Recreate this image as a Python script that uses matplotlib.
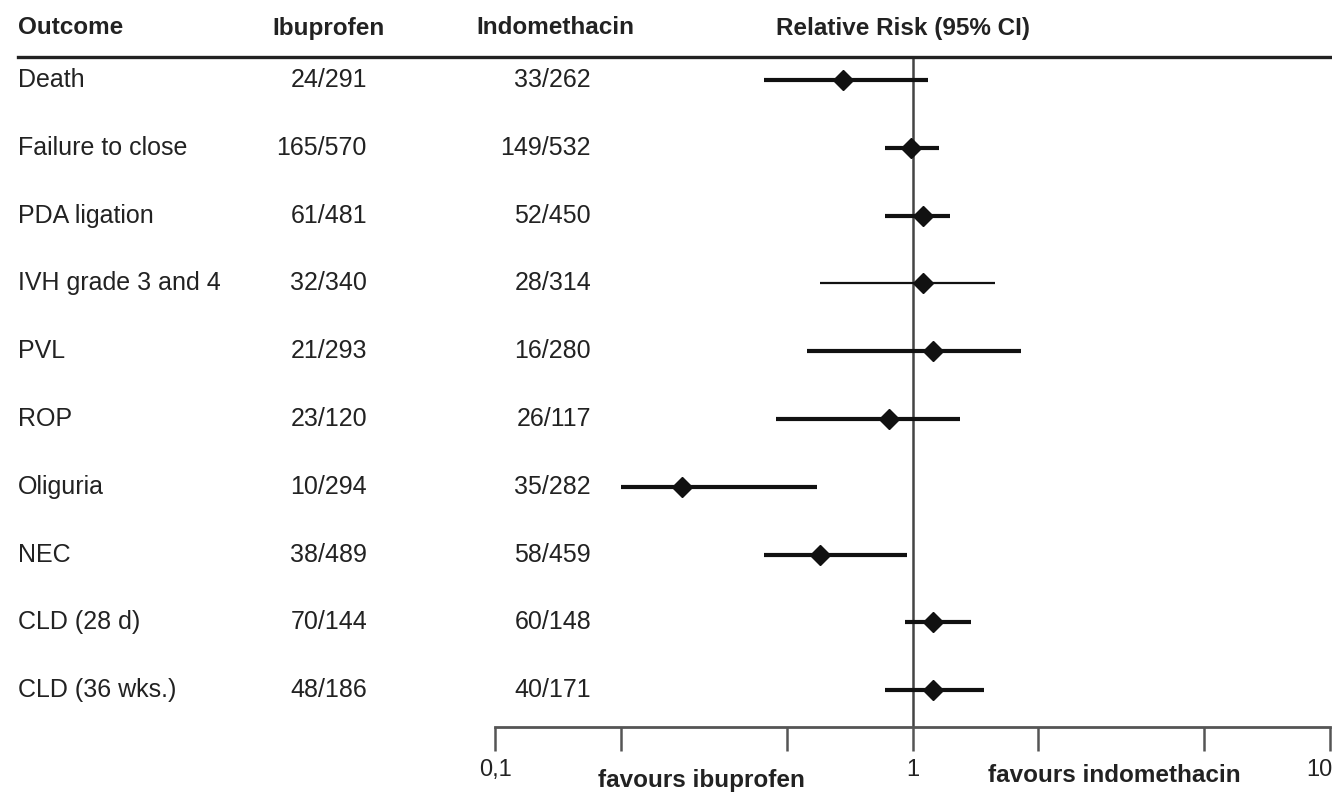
import matplotlib.pyplot as plt
from matplotlib.lines import Line2D
from matplotlib.transforms import blended_transform_factory, offset_copy

plt.rcParams['font.family'] = ['Liberation Sans', 'DejaVu Sans']

outcomes = ['Death', 'Failure to close', 'PDA ligation', 'IVH grade 3 and 4', 'PVL',
            'ROP', 'Oliguria', 'NEC', 'CLD (28 d)', 'CLD (36 wks.)']
ibuprofen = ['24/291', '165/570', '61/481', '32/340', '21/293',
             '23/120', '10/294', '38/489', '70/144', '48/186']
indomethacin = ['33/262', '149/532', '52/450', '28/314', '16/280',
                '26/117', '35/282', '58/459', '60/148', '40/171']
rr = [0.68, 0.99, 1.06, 1.06, 1.12, 0.88, 0.28, 0.60, 1.12, 1.12]
ci_low = [0.44, 0.86, 0.86, 0.60, 0.56, 0.47, 0.20, 0.44, 0.96, 0.86]
ci_high = [1.09, 1.16, 1.23, 1.58, 1.82, 1.30, 0.59, 0.97, 1.38, 1.48]

ticks = [0.1, 0.2, 0.5, 1, 2, 5, 10]
tick_labels = ['0,1', '', '', '1', '', '', '10']

W, H = 1332, 795
fig = plt.figure(figsize=(W / 100, H / 100), dpi=100)
ax = fig.add_axes([495 / W, 1 - 727 / H, (1330 - 495) / W, (727 - 57) / H])

row_px0, row_step = 80, 67.8
ax.set_ylim((727 - row_px0) / row_step, (57 - row_px0) / row_step)
ax.set_xscale('log')
ax.set_xlim(0.1, 10)

for i in range(len(outcomes)):
    lw = 1.6 if outcomes[i].startswith('IVH') else 3
    ax.plot([ci_low[i], ci_high[i]], [i, i], color='#111111', lw=lw, solid_capstyle='butt')
    ax.plot(rr[i], i, marker='D', color='#111111', markersize=10)

ax.axvline(1, color='#444444', lw=1.8, zorder=0)

for s in ['top', 'right', 'left']:
    ax.spines[s].set_visible(False)
ax.spines['bottom'].set_color('#555555')
ax.spines['bottom'].set_linewidth(2)
ax.set_yticks([])
ax.set_xticks(ticks)
ax.set_xticklabels(tick_labels, fontsize=17, color='#222222')
ax.minorticks_off()
ax.tick_params(axis='x', direction='out', length=17, width=1.8, color='#555555', pad=6)
# keep the last label inside the figure
last = ax.get_xticklabels()[-1]
last.set_horizontalalignment('right')
last.set_transform(offset_copy(last.get_transform(), fig=fig, x=2, units='points'))

# header
hy = 1 - 28 / H
hdr = dict(fontsize=17.5, fontweight='bold', va='center', color='#222222')
fig.text(18 / W, hy, 'Outcome', **hdr)
fig.text(272 / W, hy, 'Ibuprofen', **hdr)
fig.text(476 / W, hy, 'Indomethacin', **hdr)
fig.text(776 / W, hy, 'Relative Risk (95% CI)', **hdr)
fig.add_artist(Line2D([18 / W, 1.0], [1 - 57 / H, 1 - 57 / H], color='#222222', lw=2.4,
                      transform=fig.transFigure))

tr = blended_transform_factory(fig.transFigure, ax.transData)
for i in range(len(outcomes)):
    ax.text(18 / W, i, outcomes[i], transform=tr, fontsize=18, va='center', color='#222222')
    ax.text(367 / W, i, ibuprofen[i], transform=tr, fontsize=18, va='center', ha='right', color='#222222')
    ax.text(591 / W, i, indomethacin[i], transform=tr, fontsize=18, va='center', ha='right', color='#222222')

fig.text(701 / W, 1 - 781 / H, 'favours ibuprofen', fontsize=17.5, fontweight='bold',
         ha='center', va='center', color='#222222')
fig.text(1114 / W, 1 - 776 / H, 'favours indomethacin', fontsize=17.5, fontweight='bold',
         ha='center', va='center', color='#222222')

fig.savefig('out.png', dpi=100)
